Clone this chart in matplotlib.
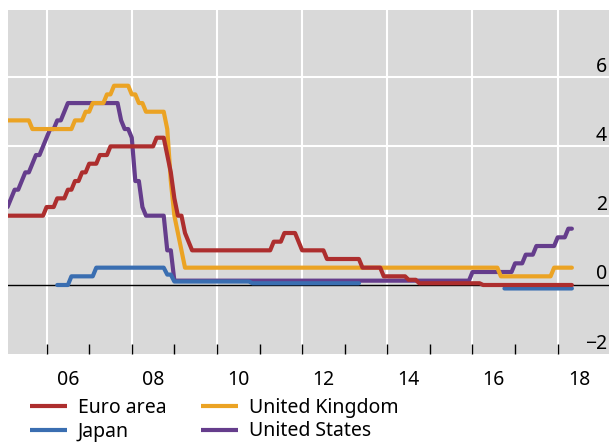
import numpy as np
import matplotlib
matplotlib.use("Agg")
import matplotlib.pyplot as plt
from matplotlib import transforms

plt.rcParams['font.family'] = ['Noto Sans', 'DejaVu Sans']

# ---------------- data: end-of-month policy rates (%), run-length encoded ----------------
# Month index 0 = January 2005; each value lasts for the given number of months.
# Last month shown: April 2018 (index 159).
N_MONTHS = 160

euro_start = 0
euro_vals = [2.0, 2.25, 2.5, 2.75, 3.0, 3.25, 3.5, 3.75, 4.0, 4.25, 3.75, 3.25, 2.5,
             2.0, 1.5, 1.25, 1.0, 1.25, 1.5, 1.25, 1.0, 0.75, 0.5, 0.25, 0.15, 0.05, 0.0]
euro_months = [11, 3, 3, 2, 2, 2, 3, 3, 13, 3, 1, 1, 1,
               2, 1, 1, 23, 3, 4, 1, 7, 10, 6, 7, 3, 18, 26]

japan_start = 14  # March 2006
japan_vals = [0.0, 0.25, 0.5, 0.3, 0.1, 0.05, np.nan, -0.1]
japan_months = [4, 7, 20, 2, 22, 31, 40, 20]

uk_start = 0
uk_vals = [4.75, 4.5, 4.75, 5.0, 5.25, 5.5, 5.75, 5.5, 5.25, 5.0, 4.5, 3.0, 2.0,
           1.5, 1.0, 0.5, 0.25, 0.5]
uk_months = [7, 12, 3, 2, 4, 2, 5, 2, 2, 6, 1, 1, 1,
             1, 1, 89, 15, 6]

us_start = 0
us_vals = [2.25, 2.5, 2.75, 3.0, 3.25, 3.5, 3.75, 4.0, 4.25, 4.5, 4.75, 5.0, 5.25,
           4.75, 4.5, 4.25, 3.0, 2.25, 2.0, 1.0, 0.125, 0.375, 0.625, 0.875, 1.125,
           1.375, 1.625]
us_months = [1, 1, 2, 1, 2, 1, 2, 1, 1, 2, 2, 1, 15,
             1, 2, 1, 2, 1, 6, 2, 84, 12, 3, 3, 6,
             3, 2]

labels = ["Euro area", "Japan", "United Kingdom", "United States"]
colors = ["#AD2E2E", "#3A6EB1", "#EBA324", "#653D8C"]

x_tick_labels = ["06", "08", "10", "12", "14", "16", "18"]
y_tick_labels = ["\u22122", "0", "2", "4", "6"]
y_tick_vals = [-2, 0, 2, 4, 6]


def monthly(start, vals, months):
    v = np.repeat(np.array(vals, dtype=float), months)
    idx = start + np.arange(len(v))
    x = 2005 + (idx + 1) / 12.0   # plotted at month end
    return x, v


# ---------------- figure ----------------
W, H = 609, 445
fig = plt.figure(figsize=(W / 100, H / 100), dpi=100)
ax_top, ax_bot = 9.5, 354.3
ax = fig.add_axes([8 / W, (H - ax_bot) / H, (W - 8) / W, (ax_bot - ax_top) / H])
ax.set_facecolor('#D9D9D9')
for s in ax.spines.values():
    s.set_visible(False)
ax.set_xlim(2005.094, 2019.205)
ax.set_ylim(-2, 7.95)

ax.set_xticks(list(range(2006, 2019, 2)))
ax.set_xticks(list(range(2007, 2018, 2)), minor=True)
ax.tick_params(axis='x', which='both', direction='in', length=7, width=1,
               color='black', labelbottom=False)
ax.grid(axis='x', which='major', color='white', lw=1.5)
ax.set_yticks([2, 4, 6])
ax.tick_params(axis='y', length=0, labelleft=False)
ax.grid(axis='y', color='white', lw=1.5)
ax.set_axisbelow(True)

ax.axhline(0, color='black', lw=1.0, zorder=1.5)

series = [
    (euro_start, euro_vals, euro_months),
    (japan_start, japan_vals, japan_months),
    (uk_start, uk_vals, uk_months),
    (us_start, us_vals, us_months),
]
zorders = [5, 4, 3, 2]
handles = []
for (st, vals, mons), lab, c, z in zip(series, labels, colors, zorders):
    x, v = monthly(st, vals, mons)
    ln, = ax.plot(x, v, color=c, lw=3.0, label=lab,
                  solid_joinstyle='round', solid_capstyle='round', zorder=z)
    handles.append(ln)

xtr = transforms.blended_transform_factory(ax.transData, ax.transAxes)
for i, lab in enumerate(x_tick_labels):
    yr = 2006 + 2 * i
    ax.text(yr + 0.5, -0.045, lab, transform=xtr, ha='center', va='top',
            fontsize=14, color='black')

ytr = transforms.blended_transform_factory(ax.transAxes, ax.transData)
ytr = transforms.offset_copy(ytr, fig=fig, x=0, y=5.5, units='dots')
for v, lab in zip(y_tick_vals, y_tick_labels):
    ax.text(0.9967, v, lab, transform=ytr, ha='right', va='baseline',
            fontsize=14, color='black')

leg = fig.legend(handles=handles, labels=labels, ncol=2, loc='upper left',
                 bbox_to_anchor=(30 / W, (H - 398) / H), frameon=False,
                 fontsize=14, handlelength=1.9, handletextpad=0.55,
                 columnspacing=1.8, labelspacing=0.18, borderpad=0,
                 borderaxespad=0)
for lh in leg.get_lines():
    lh.set_linewidth(3.0)
    lh.set_solid_capstyle('butt')

fig.savefig("out.png", dpi=100)
